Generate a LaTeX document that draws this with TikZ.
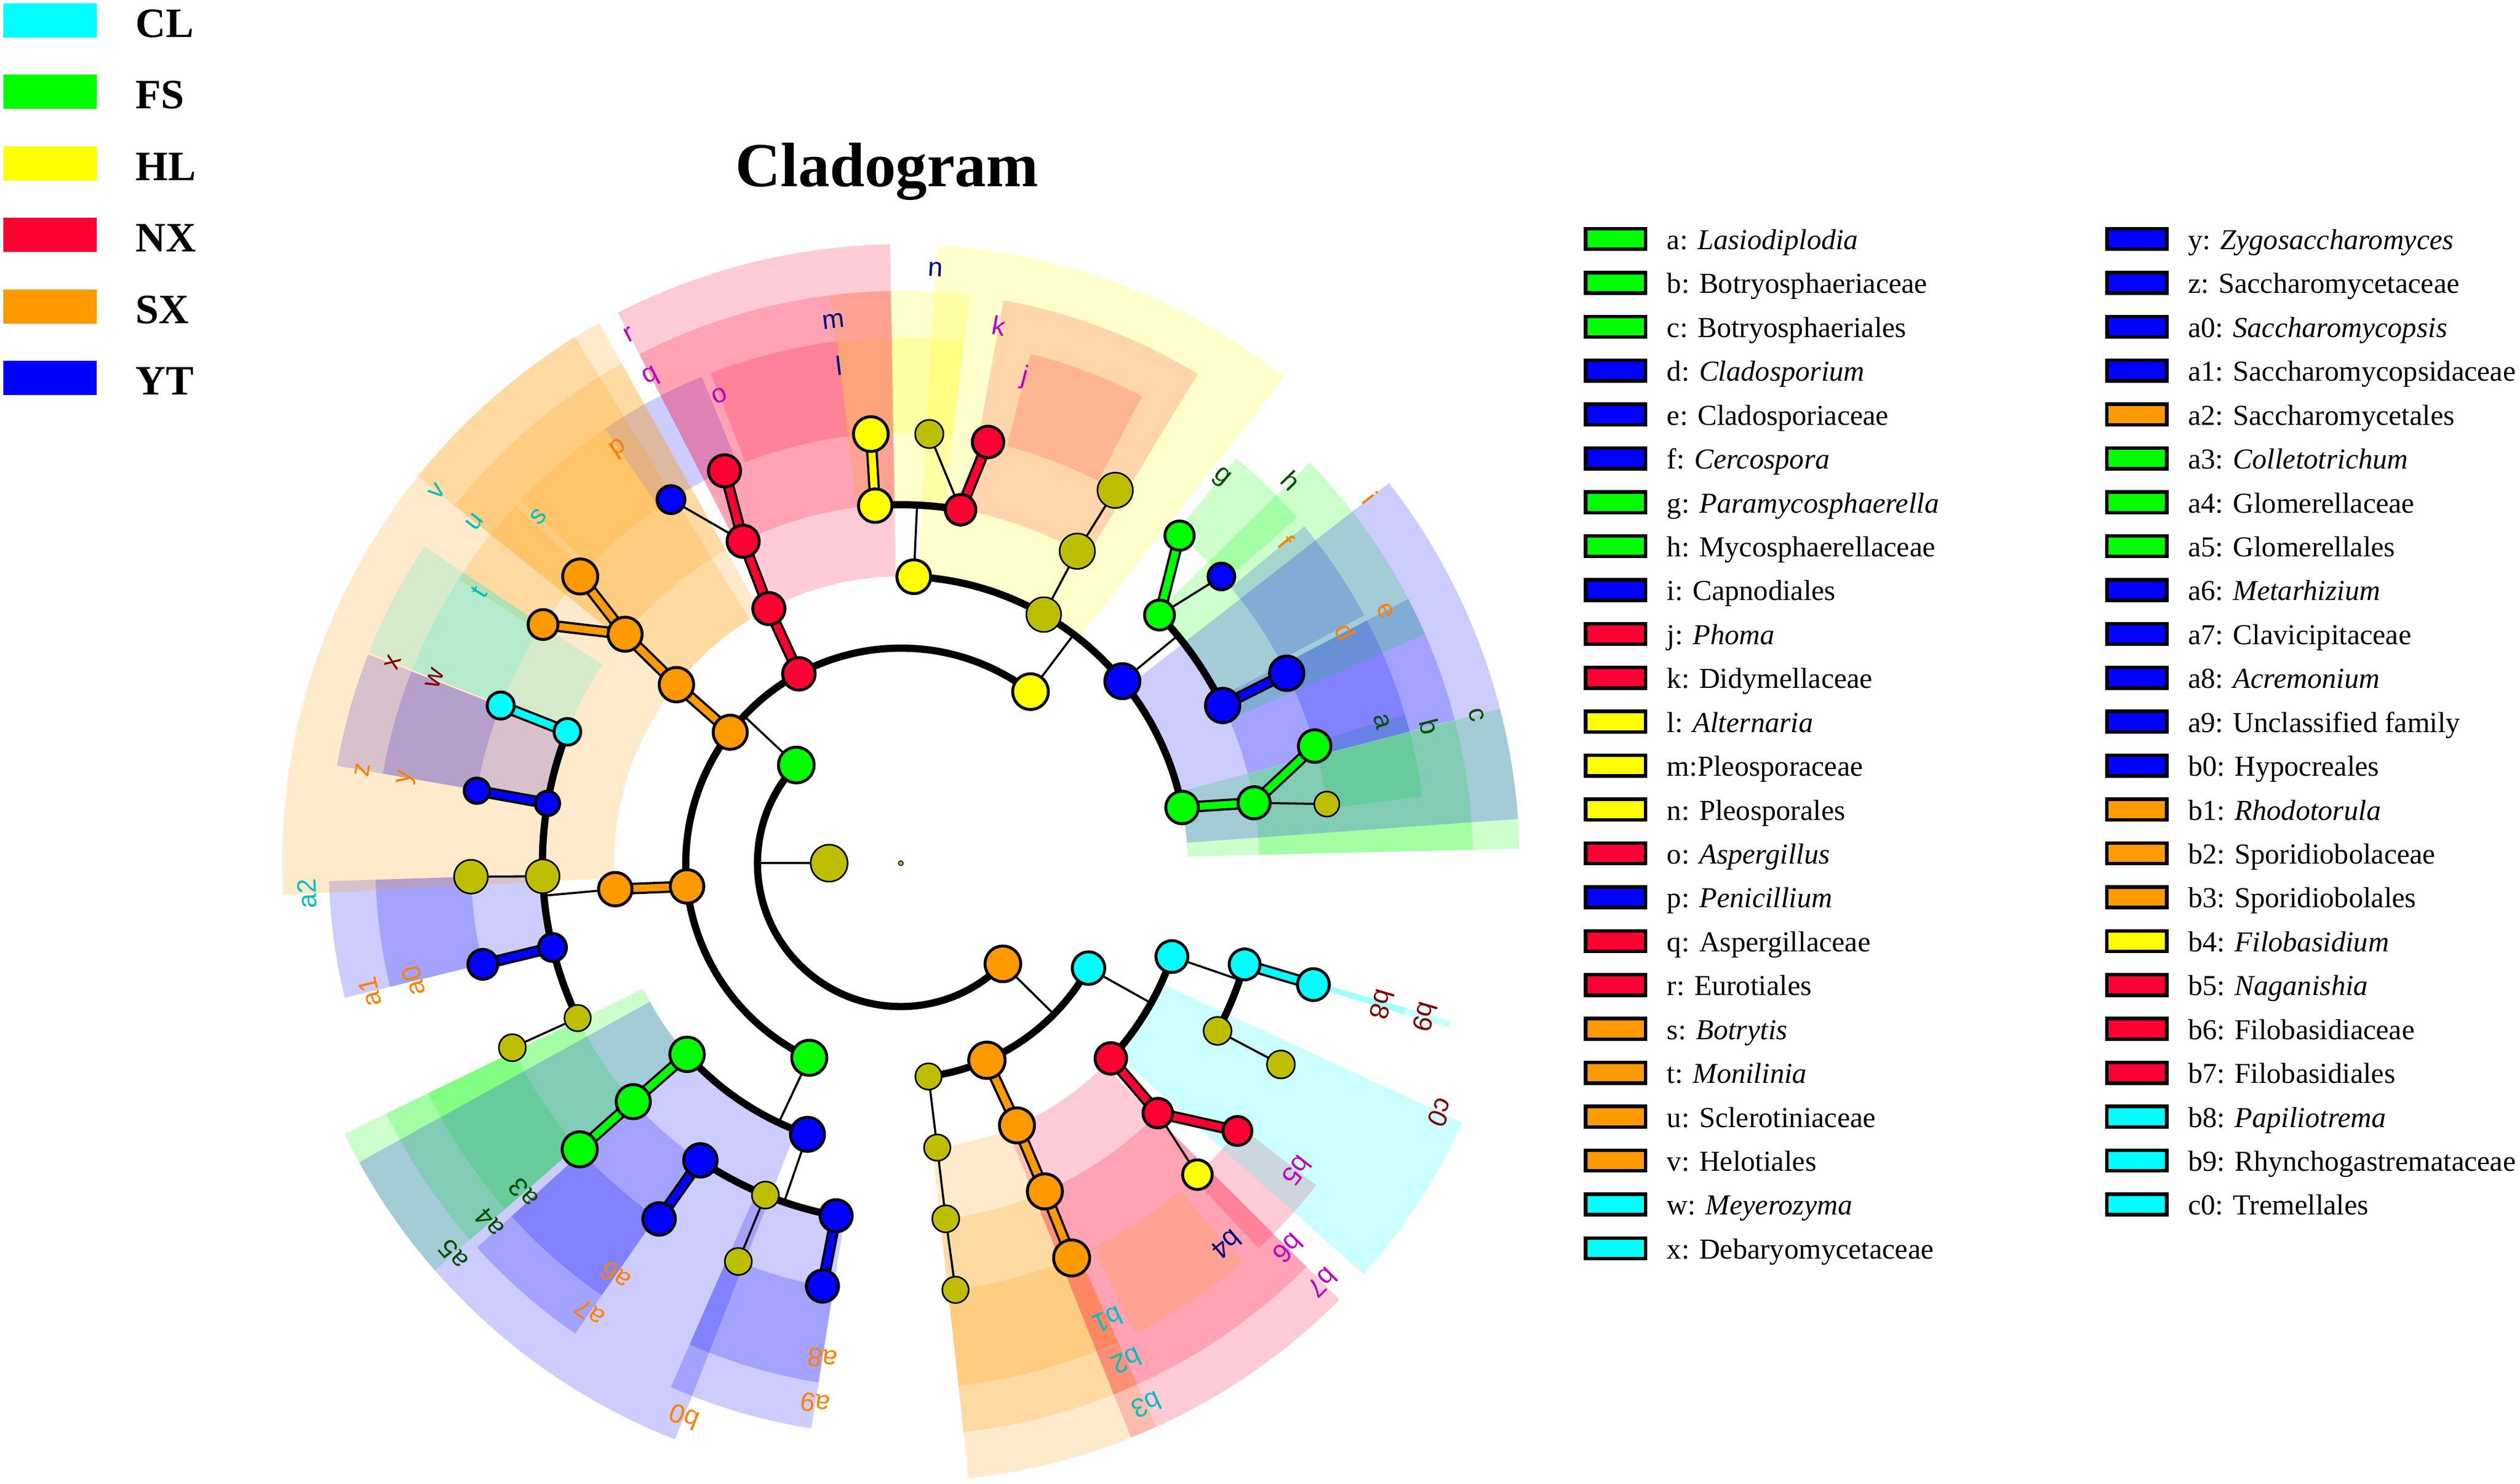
\documentclass[tikz,border=0pt]{standalone}
\usepackage{fontspec}
\setmainfont{Liberation Serif}
\newfontfamily\lblfont{Liberation Sans}
\usepackage{xcolor}
\usetikzlibrary{positioning}

% group colours
\definecolor{cgrn}{RGB}{0,255,0}
\definecolor{cblu}{RGB}{0,0,255}
\definecolor{ccyn}{RGB}{0,255,255}
\definecolor{cyel}{RGB}{255,255,0}
\definecolor{cred}{RGB}{255,0,51}
\definecolor{corg}{RGB}{255,153,0}
\definecolor{colv}{RGB}{190,190,0}
% clade letter colours
\definecolor{tgrn}{RGB}{0,80,0}
\definecolor{torg}{RGB}{255,128,0}
\definecolor{tmag}{RGB}{190,0,190}
\definecolor{tnav}{RGB}{0,0,128}
\definecolor{ttea}{RGB}{0,190,190}
\definecolor{tmar}{RGB}{128,0,0}

% ring radii
\newcommand{\Rone}{44.6}
\newcommand{\Rtwo}{89.2}
\newcommand{\Rthree}{133.8}
\newcommand{\Rfour}{178.4}
\newcommand{\Rfive}{223}
\newcommand{\Rsix}{267.6}

\newcommand{\shadesec}[5]{%
  \fill[#5, fill opacity=0.2] (#1:#3) arc[start angle=#1, end angle=#2, radius=#3*1pt]
    -- (#2:#4) arc[start angle=#2, end angle=#1, radius=#4*1pt] -- cycle;}

\pgfdeclarelayer{shade}
\pgfdeclarelayer{links}
\pgfsetlayers{shade,links,main}

\begin{document}
\begin{tikzpicture}[x=1pt, y=1pt,
  bub/.style={circle, draw=black, line width=1.8pt, inner sep=0pt},
  obub/.style={bub, fill=colv, line width=1pt},
  thinl/.style={line width=1.3pt},
  arcl/.style={line width=4.5pt},
  cbar/.style={line width=1.4pt, double=#1, double distance=4.4pt},
  cladetag/.style={font=\lblfont\fontsize{16.5}{16.5}\selectfont, inner sep=0pt},
  keybox/.style={draw=black, line width=2.2pt, minimum width=37.3pt, minimum height=12.8pt, inner sep=0pt},
  keytext/.style={font=\fontsize{18}{20}\selectfont, inner sep=0pt, text height=12pt, text depth=4pt},
  grpbox/.style={minimum width=58pt, minimum height=21.3pt, inner sep=0pt},
  grptext/.style={font=\bfseries\fontsize{26}{28}\selectfont, inner sep=0pt, text height=18pt, text depth=0pt}
]
\useasboundingbox (0,0) rectangle (1568,922.9);

% Groups
\foreach \col/\txt [count=\n] in {ccyn/CL, cgrn/FS, cyel/HL, cred/NX, corg/SX, cblu/YT} {
  \node[grpbox, fill=\col] (grp\n) at (31, {910.2-44.5*(\n-1)}) {};
  \node[grptext, right=24pt of grp\n, yshift=-1.5pt] (grptxt\n) {\txt};
}

% Title
\node[font=\bfseries\fontsize{39}{42}\selectfont, anchor=base] (title) at (552, 806.9) {Cladogram};

% Key, first column
\foreach \col/\txt [count=\n] in {
  cgrn/a: \textit{Lasiodiplodia}, cgrn/b: Botryosphaeriaceae, cgrn/c: Botryosphaeriales,
  cblu/d: \textit{Cladosporium}, cblu/e: Cladosporiaceae, cblu/f: \textit{Cercospora},
  cgrn/g: \textit{Paramycosphaerella}, cgrn/h: Mycosphaerellaceae, cblu/i: Capnodiales,
  cred/j: \textit{Phoma}, cred/k: Didymellaceae, cyel/l: \textit{Alternaria},
  cyel/m:Pleosporaceae, cyel/n: Pleosporales, cred/o: \textit{Aspergillus},
  cblu/p: \textit{Penicillium}, cred/q: Aspergillaceae, cred/r: Eurotiales,
  corg/s: \textit{Botrytis}, corg/t: \textit{Monilinia}, corg/u: Sclerotiniaceae,
  corg/v: Helotiales, ccyn/w: \textit{Meyerozyma}, ccyn/x: Debaryomycetaceae} {
  \node[keybox, fill=\col] (key\n) at (1005.3, {774.2-27.3*(\n-1)}) {};
  \node[keytext, right=12pt of key\n, yshift=-2.5pt] (keytxt\n) {\txt};
}

% Key, second column
\foreach \col/\txt [count=\n from 25] in {
  cblu/y: \textit{Zygosaccharomyces}, cblu/z: Saccharomycetaceae, cblu/a0: \textit{Saccharomycopsis},
  cblu/a1: Saccharomycopsidaceae, corg/a2: Saccharomycetales, cgrn/a3: \textit{Colletotrichum},
  cgrn/a4: Glomerellaceae, cgrn/a5: Glomerellales, cblu/a6: \textit{Metarhizium},
  cblu/a7: Clavicipitaceae, cblu/a8: \textit{Acremonium}, cblu/a9: Unclassified family,
  cblu/b0: Hypocreales, corg/b1: \textit{Rhodotorula}, corg/b2: Sporidiobolaceae,
  corg/b3: Sporidiobolales, cyel/b4: \textit{Filobasidium}, cred/b5: \textit{Naganishia},
  cred/b6: Filobasidiaceae, cred/b7: Filobasidiales, ccyn/b8: \textit{Papiliotrema},
  ccyn/b9: Rhynchogastremataceae, ccyn/c0: Tremellales} {
  \node[keybox, fill=\col] (key\n) at (1329.5, {774.2-27.3*(\n-25)}) {};
  \node[keytext, right=12pt of key\n, yshift=-2.5pt] (keytxt\n) {\txt};
}

\begin{scope}[shift={(560.5,385.9)}]

% Clade shading
\begin{pgfonlayer}{shade}
\foreach \sa/\sb/\ri/\ro/\cl in {
  7.3/16.4/\Rsix/327/cgrn, 14.5/27.5/\Rsix/327/cblu, 28.15/39.85/\Rsix/327/cblu,
  41.1/50.3/\Rsix/327/cgrn, 62.7/75.7/\Rsix/327/cred, 83.1/97.1/\Rsix/327/cyel,
  97/111.2/\Rsix/327/cred, 112.25/124.25/\Rsix/327/cblu, 124.25/136.25/\Rsix/327/corg,
  137.2/147.3/\Rsix/327/corg, 146.4/158.4/\Rsix/327/ccyn, 158.6/170.2/\Rsix/327/cblu,
  181.8/193.6/\Rsix/327/cblu, 205.95/221.15/\Rsix/327/cgrn, 222.2/235.3/\Rsix/327/cblu,
  246.3/261/\Rsix/327/cblu, 276.3/294.4/\Rsix/327/corg, 296.5/310.5/\Rsix/327/cyel,
  312.9/322.2/\Rsix/327/cred, 343.3/344/\Rsix/327/ccyn,
  1.35/14.45/\Rfive/356/cgrn, 14.5/27.5/\Rfive/356/cblu, 23.6/44.4/\Rfive/356/cgrn,
  58.75/79.65/\Rfive/356/cred, 83.1/97.1/\Rfive/356/cyel, 91/117.2/\Rfive/356/cred,
  119.2/141.3/\Rfive/356/corg, 146.4/158.4/\Rfive/356/ccyn, 158.6/170.2/\Rfive/356/cblu,
  181.8/193.6/\Rfive/356/cblu, 205.95/221.15/\Rfive/356/cgrn, 222.2/235.3/\Rfive/356/cblu,
  246.3/261/\Rfive/356/cblu, 276.3/294.4/\Rfive/356/corg, 291.85/315.15/\Rfive/356/cred,
  343.3/344/\Rfive/356/ccyn,
  1.35/14.45/\Rfour/385/cgrn, 4.1/37.9/\Rfour/385/cblu, 51.75/86.65/\Rfour/385/cyel,
  91/117.2/\Rfour/385/cred, 119.2/141.3/\Rfour/385/corg, 121.8/182.95/\Rfour/385/corg,
  205.95/221.15/\Rfour/385/cgrn, 208.9/248.6/\Rfour/385/cblu, 276.3/294.4/\Rfour/385/corg,
  291.85/315.15/\Rfour/385/cred, 318.4/335.2/\Rfour/385/ccyn}
  {\shadesec{\sa}{\sb}{\ri}{\ro}{\cl}}
\end{pgfonlayer}

% Clade letters
\foreach \tg/\an/\rr/\cl in {
  a/16.4/312/tgrn, d/27.5/312/torg, f/39.85/312/torg, g/50.3/312/tgrn, j/75.7/312/tmag,
  l/97.1/312/tnav, o/111.2/312/tmag, p/124.25/312/torg, s/136.25/312/ttea, t/147.3/312/ttea,
  w/158.4/312/tmar, y/170.2/312/torg, a0/193.6/312/torg, a3/221.15/312/tgrn, a6/235.3/312/torg,
  a8/261/312/torg, b1/294.4/312/ttea, b4/310.5/312/tnav, b5/322.2/312/tmag, b8/343.65/312/tmar,
  b/14.45/340/tgrn, e/27.5/340/torg, h/44.4/340/tgrn, k/79.65/340/tmag, m/97.1/340/tnav,
  q/117.2/340/tmag, u/141.3/340/ttea, x/158.4/340/tmar, z/170.2/340/torg, a1/193.6/340/torg,
  a4/221.15/340/tgrn, a7/235.3/340/torg, a9/261/340/torg, b2/294.4/340/ttea, b6/315.15/340/tmag,
  b9/343.65/340/tmar,
  c/14.45/370/tgrn, i/37.9/370/torg, n/86.65/370/tnav, r/117.2/370/tmag, v/141.3/370/ttea,
  a2/182.95/370/ttea, a5/221.15/370/tgrn, b0/248.6/370/torg, b3/294.4/370/ttea,
  b7/315.15/370/tmag, c0/335.2/370/tmar}
  {\node[cladetag, text=\cl, rotate=\an-90] (tag\tg) at (\an:\rr) {\tg};}

% Coloured taxa
\foreach \nm/\an/\rr/\sz/\cl in {
  asco/136.8/\Rtwo/12/cgrn, basi/315.4/\Rtwo/12/corg,
  doth/52.9/\Rthree/12/cyel, euro/118.3/\Rthree/11/cred, leot/142.5/\Rthree/11.5/corg,
  sacc/186.2/\Rthree/11.3/corg, sord/244.8/\Rthree/11.8/cgrn, micr/293.6/\Rthree/12.2/corg,
  trem/330.8/\Rthree/11/ccyn,
  c/11.2/\Rfour/11/cgrn, i/39.4/\Rfour/11.8/cblu, n/87.4/\Rfour/11.4/cyel, r/117.4/\Rfour/10.9/cred,
  v/141.5/\Rfour/11.6/corg, a2/185.2/\Rfour/11.3/corg, a5/221.8/\Rfour/11.6/cgrn,
  b0/251/\Rfour/11.5/cblu, b3/293.9/\Rfour/11.8/corg, b7/317.1/\Rfour/10.7/cred,
  c0/341/\Rfour/10.8/ccyn,
  b/9.7/\Rfive/10.9/cgrn, e/26.1/\Rfive/11.6/cblu, h/43.8/\Rfive/10.2/cgrn, k/80.4/\Rfive/10.4/cred,
  m/94.1/\Rfive/11.3/cyel, q/116.1/\Rfive/10.9/cred, u/140.3/\Rfive/11.5/corg,
  x/158.5/\Rfive/9.2/ccyn, z/170.4/\Rfive/8.5/cblu, a1/193.6/\Rfive/9.6/cblu,
  a4/221.7/\Rfive/11.5/cgrn, a7/236/\Rfive/11.3/cblu, a9/259.6/\Rfive/10.9/cblu,
  b2/293.7/\Rfive/11.8/corg, b6/315.8/\Rfive/10.1/cred, b9/343.6/\Rfive/10.5/ccyn,
  a/15.8/\Rsix/11/cgrn, d/26.2/\Rsix/11.6/cblu, f/41.8/\Rsix/9.2/cblu, g/49.6/\Rsix/10/cgrn,
  j/78.3/\Rsix/10.7/cred, l/94/\Rsix/11.7/cyel, o/114.2/\Rsix/10.9/cred, p/122.3/\Rsix/9.6/cblu,
  s/138.2/\Rsix/11.8/corg, t/146.3/\Rsix/10.2/corg, w/158.5/\Rsix/9.3/ccyn, y/170.3/\Rsix/8.8/cblu,
  a0/193.6/\Rsix/10.2/cblu, a3/221.7/\Rsix/11.8/cgrn, a6/235.8/\Rsix/11/cblu,
  a8/259.5/\Rsix/10.9/cblu, b1/293.4/\Rsix/12.1/corg, b4/313.6/\Rsix/10.1/cyel,
  b5/321.5/\Rsix/9.9/cred, b8/343.6/\Rsix/10.8/ccyn}
  {\node[bub, fill=\cl, minimum size=2*\sz pt-1.8pt] (\nm) at (\an:\rr) {};}

% Other taxa
\foreach \nm/\an/\rr/\sz in {
  kng/180/\Rone/12, obas/277.4/\Rthree/8.7, ol60o/60.1/\Rfour/11.3, ol277o/277.3/\Rfour/8.7,
  ol60f/60.5/\Rfive/11.5, ol182f/182.1/\Rfive/11, ol205f/205.6/\Rfive/8.7, ol248f/247.8/\Rfive/8.9,
  ol277f/277.2/\Rfive/8.9, ol332f/332.1/\Rfive/9.2,
  ol8g/7.9/\Rsix/8.3, ol60g/60.1/\Rsix/11.5, ol86g/86.2/\Rsix/9.3, ol182g/181.8/\Rsix/11,
  ol205g/205.4/\Rsix/8.9, ol248g/247.8/\Rsix/8.9, ol277g/277.3/\Rsix/8.7, ol332g/332.1/\Rsix/9.2}
  {\node[obub, minimum size=2*\sz pt-1pt] (\nm) at (\an:\rr) {};}
\node[obub, minimum size=3pt, line width=0.5pt] (root) at (0,0) {};

% Junctions on the rings
\coordinate (jkng) at (180:\Rtwo);
\coordinate (jasco) at (136.8:\Rthree);
\coordinate (jbasi) at (315.4:\Rthree);
\coordinate (jdoth) at (52.9:\Rfour);
\coordinate (jsord) at (244.8:\Rfour);
\coordinate (jtrem) at (330.8:\Rfour);
\coordinate (ji) at (39.4:\Rfive);
\coordinate (jn) at (87.4:\Rfive);
\coordinate (ja2) at (185.2:\Rfive);
\coordinate (jb0) at (251:\Rfive);
\coordinate (jc0) at (341:\Rfive);

\begin{pgfonlayer}{links}
% thin branches
\foreach \p/\q in {kng/jkng, asco/jasco, basi/jbasi, doth/jdoth, sord/jsord, trem/jtrem,
  i/ji, n/jn, a2/ja2, b0/jb0, c0/jc0}
  \draw[thinl] (\p.center) -- (\q);
\foreach \p/\q in {obas/ol277o, ol277o/ol277f, ol277f/ol277g, ol60o/ol60f, ol60f/ol60g,
  b/ol8g, h/f, k/ol86g, q/p, ol182f/ol182g, ol205f/ol205g, ol248f/ol248g, b6/b4, ol332f/ol332g}
  \draw[thinl] (\p.center) -- (\q.center);
% rings
\foreach \p/\sa/\sb/\rr in {asco/136.8/315.4/\Rtwo, doth/52.9/244.8/\Rthree,
  obas/277.4/330.8/\Rthree, c/11.2/87.4/\Rfour, a5/221.8/251/\Rfour, b7/317.1/341/\Rfour,
  e/26.1/43.8/\Rfive, k/80.4/94.1/\Rfive, x/158.5/205.6/\Rfive, a7/236/259.6/\Rfive,
  ol332f/332.1/343.6/\Rfive}
  \draw[arcl] (\p.center) arc[start angle=\sa, end angle=\sb, radius=\rr*1pt];
% coloured branches
\foreach \p/\q/\cl in {euro/r/cred, r/q/cred, q/o/cred, leot/v/corg, v/u/corg, u/s/corg,
  u/t/corg, sacc/a2/corg, micr/b3/corg, b3/b2/corg, b2/b1/corg, c/b/cgrn, b/a/cgrn,
  h/g/cgrn, e/d/cblu, k/j/cred, m/l/cyel, x/w/ccyn, z/y/cblu, a1/a0/cblu, a5/a4/cgrn,
  a4/a3/cgrn, a7/a6/cblu, a9/a8/cblu, b7/b6/cred, b6/b5/cred, b9/b8/ccyn}
  \draw[cbar=\cl] (\p.center) -- (\q.center);
\end{pgfonlayer}

\end{scope}

\end{tikzpicture}
\end{document}
